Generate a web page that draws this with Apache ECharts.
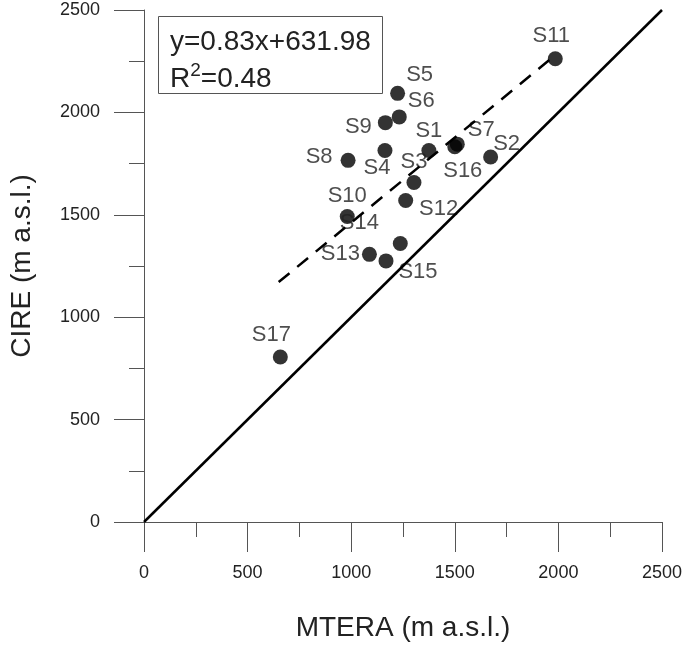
<!DOCTYPE html>
<html>
<head>
<meta charset="utf-8">
<script src="https://cdn.jsdelivr.net/npm/echarts@6/dist/echarts.min.js"></script>
<style>html,body{margin:0;padding:0;background:#fff}#c{width:685px;height:647px}</style>
</head>
<body>
<div id="c"></div>
<script>
// ---- data ----
const siteNames = ['S1','S2','S3','S4','S5','S6','S7','S8','S9','S10','S11','S12','S13','S14','S15','S16','S17'];
const mtera =     [1375,1673,1303,1163,1224,1232,1512, 985,1165, 981,1985,1263,1088,1237,1168,1500, 658];
const cire =      [1814,1782,1658,1814,2093,1978,1845,1766,1950,1492,2262,1570,1307,1360,1275,1832, 806];
const axisTicks = [0,500,1000,1500,2000,2500];
const fitSlope = 0.83;
const fitIntercept = 631.98;
const fitRange = [650, 1985];
const r2 = 0.48;

// ---- label placement (style only) ----
const labelOffsets = {
  S1:[0,-20], S2:[16,-13], S3:[0,-21], S4:[-8,17], S5:[22,-18], S6:[22,-16],
  S7:[24,-14], S8:[-29,-3], S9:[-27,4], S10:[0,-21], S11:[-4,-23], S12:[33,8],
  S13:[-29,0], S14:[-41,-21], S15:[32,11], S16:[8,24], S17:[-9,-22]
};

const FONT = '"Liberation Sans", Arial, sans-serif';
const pts = siteNames.map((n,i)=>({
  name:n, value:[mtera[i], cire[i]],
  label:{offset:labelOffsets[n]}
}));
const fitLine = fitRange.map(x=>[x, fitSlope*x + fitIntercept]);
const oneToOne = [[axisTicks[0],axisTicks[0]],[axisTicks[axisTicks.length-1],axisTicks[axisTicks.length-1]]];

const axisCommon = {
  type:'value', min:axisTicks[0], max:axisTicks[axisTicks.length-1], interval:500,
  axisLine:{show:true, onZero:false, lineStyle:{color:'#555', width:1}},
  axisTick:{show:true, length:30, lineStyle:{color:'#555', width:1}},
  minorTick:{show:true, splitNumber:2, length:15, lineStyle:{color:'#555', width:1}},
  splitLine:{show:false},
  axisLabel:{fontSize:18, color:'#222', fontFamily:FONT, formatter:(v)=>String(v)},
  nameLocation:'middle',
  nameTextStyle:{fontSize:28, color:'#222', fontFamily:FONT}
};

const chart = echarts.init(document.getElementById('c'), null, {renderer:'canvas'});
chart.setOption({
  animation:false,
  backgroundColor:'#fff',
  title:{
    left:158, top:12,
    text:'{a|y='+fitSlope+'x+'+fitIntercept+'}\n{a|R}{s|2}{a|=' + r2 + '}',
    borderColor:'#555', borderWidth:1,
    padding:[12,12,0,12],
    textStyle:{
      fontWeight:'normal',
      rich:{
        a:{fontSize:28, color:'#222', fontFamily:FONT, fontWeight:'normal', lineHeight:37},
        s:{fontSize:19, color:'#222', fontFamily:FONT, fontWeight:'normal', verticalAlign:'top', lineHeight:37, padding:[0,0,12,0]}
      }
    }
  },
  grid:{left:139, top:10, width:523, height:522, containLabel:false},
  xAxis:Object.assign({}, axisCommon, {
    name:'MTERA (m a.s.l.)', nameGap:92,
    axisLabel:Object.assign({}, axisCommon.axisLabel, {margin:42})
  }),
  yAxis:Object.assign({}, axisCommon, {
    name:'CIRE (m a.s.l.)', nameGap:108,
    axisLabel:Object.assign({}, axisCommon.axisLabel, {margin:44})
  }),
  series:[
    {
      type:'line', data:oneToOne, symbol:'none', silent:true,
      lineStyle:{color:'#000', width:2.5}
    },
    {
      type:'line', data:fitLine, symbol:'none', silent:true,
      lineStyle:{color:'#000', width:2.5, type:[14,10]}
    },
    {
      type:'scatter', data:pts, symbolSize:15,
      itemStyle:{color:'#000'},
      label:{show:true, position:'inside', formatter:'{b}', fontSize:22, color:'#222', fontFamily:FONT}
    }
  ]
});
</script>
</body>
</html>
